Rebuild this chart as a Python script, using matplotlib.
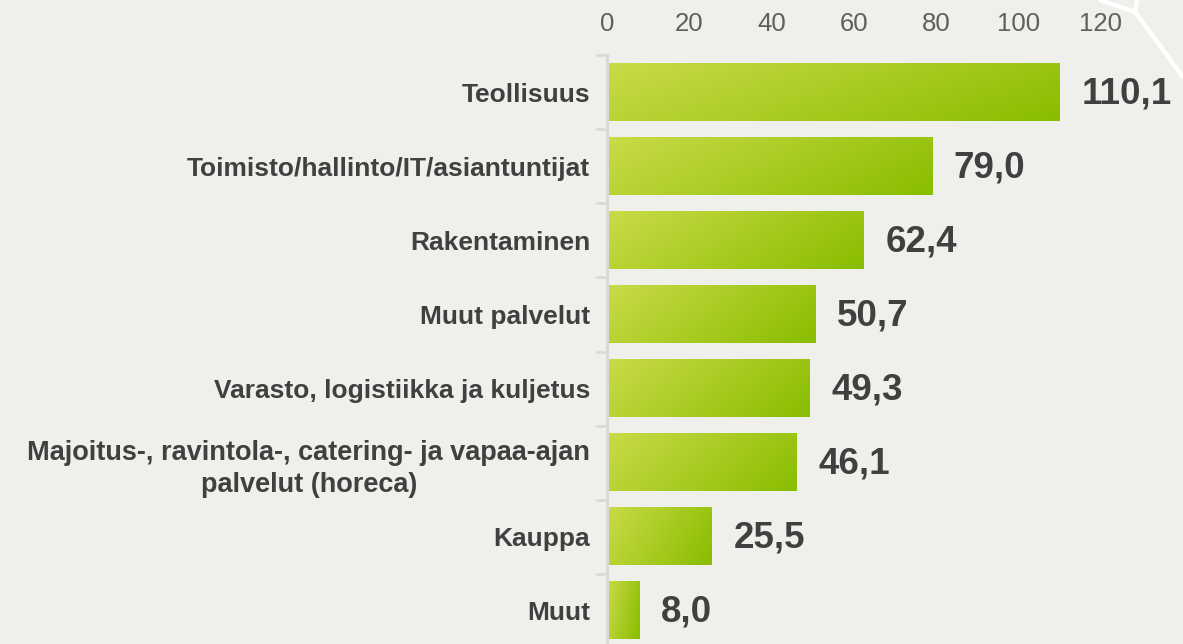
import matplotlib
matplotlib.use("Agg")
import matplotlib.pyplot as plt
import numpy as np
from matplotlib.lines import Line2D
from matplotlib.colors import to_rgb

categories = ["Teollisuus", "Toimisto/hallinto/IT/asiantuntijat", "Rakentaminen",
              "Muut palvelut", "Varasto, logistiikka ja kuljetus",
              "Majoitus-, ravintola-, catering- ja vapaa-ajan\npalvelut (horeca)",
              "Kauppa", "Muut"]
values = [110.1, 79.0, 62.4, 50.7, 49.3, 46.1, 25.5, 8.0]
xticks = [0, 20, 40, 60, 80, 100, 120]

BG = "#efefeb"
W, H = 1183, 644
fig = plt.figure(figsize=(W / 100, H / 100), dpi=100, facecolor=BG)
ax = fig.add_axes([607 / W, -4 / H, 576 / W, 593 / H], facecolor=BG)

c_light = np.array(to_rgb("#cadb48"))
c_dark = np.array(to_rgb("#89bd00"))
bh = 0.77
nx, ny = 200, 40
u = np.linspace(0, 1, nx)[None, :]
vv = np.linspace(0, 1, ny)[:, None]
t = (u * 0.75 + vv * 0.25)
t = (t - t.min()) / (t.max() - t.min())
grad = c_light[None, None, :] * (1 - t[..., None]) + c_dark[None, None, :] * t[..., None]

FAM = ["Liberation Sans", "DejaVu Sans"]
ypos = np.arange(len(categories))
ax.barh(ypos, values, height=bh, color="none", edgecolor="none")
for i, v in enumerate(values):
    ax.imshow(grad, extent=(0, v, i + bh / 2, i - bh / 2), origin="upper",
              aspect="auto", interpolation="bilinear", zorder=2)
    ax.text(v + 5.2, i + 0.02, f"{v:.1f}".replace(".", ","), ha="left", va="center",
            fontsize=26.5, fontweight="bold", color="#404040", family=FAM, zorder=3)

ax.set_xlim(0, 140)
ax.set_ylim(len(categories) - 0.5, -0.5)

ax.xaxis.tick_top()
ax.set_xticks(xticks)
ax.set_xticklabels([str(x) for x in xticks], fontsize=18.5, color="#5f5f5f", family=FAM)
ax.tick_params(axis="x", length=0, pad=14)

ax.set_yticks(ypos)
ax.set_yticklabels(categories, fontsize=19, color="#404040", fontweight="bold",
                   family=FAM, multialignment="center")
for lab in ax.get_yticklabels():
    if lab.get_text().startswith("Majoitus"):
        lab.set_fontsize(19.5)
        lab.set_linespacing(1.3)
ax.tick_params(axis="y", length=0, pad=12)
ax.set_yticks(np.arange(-0.5, len(categories) + 0.5, 1), minor=True)
ax.tick_params(axis="y", which="minor", length=8, width=2, color="#d9d9d9")

for s in ["top", "right", "bottom"]:
    ax.spines[s].set_visible(False)
ax.spines["left"].set_color("#d9d9d9")
ax.spines["left"].set_linewidth(2.2)

# decorative white lines in the top-right corner
def fpt(x, y):
    return x / W, 1 - y / H
for (x0, y0), (x1, y1) in [((1100, 0), (1135, 12)), ((1137, 0), (1135, 12)), ((1135, 12), (1183, 77))]:
    a, b = fpt(x0, y0), fpt(x1, y1)
    fig.add_artist(Line2D([a[0], b[0]], [a[1], b[1]], transform=fig.transFigure,
                          color="white", lw=3.2, solid_capstyle="round", zorder=5))

fig.savefig("out.png", dpi=100, facecolor=BG)
